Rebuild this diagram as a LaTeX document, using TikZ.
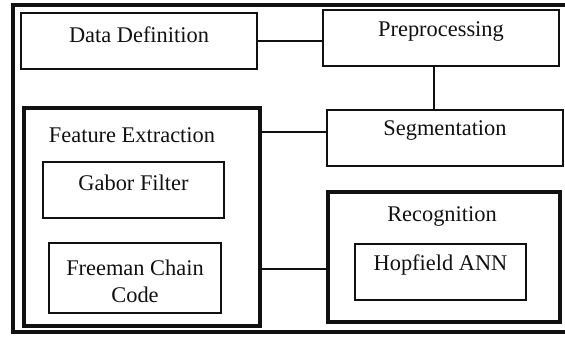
\documentclass[tikz,border=0pt]{standalone}
\usepackage{fontspec}
\setmainfont{Liberation Serif}
\usepackage{xcolor}
\usetikzlibrary{positioning,calc}
\definecolor{ink}{HTML}{111111}
\tikzset{
  frame/.style={draw=ink,line width=2pt},
  box/.style={draw=ink,fill=white,line width=1.3pt,inner sep=0pt,minimum width=#1},
  box/.default=118pt,
  groupbox/.style={draw=ink,fill=white,line width=2pt,inner sep=0pt},
  txt/.style={font=\fontsize{11.2}{13.4}\selectfont,text=ink,inner sep=0pt,align=center},
  link/.style={draw=ink,line width=1.1pt},
}

\begin{document}
\begin{tikzpicture}[x=0.5pt,y=-0.5pt]
    \useasboundingbox (0,0) rectangle (565,336);
    \draw[frame] (13,5) rectangle (570,332);
    % top row
    \node[box,minimum height=28pt] (dd) at (139,41) {};
    \node[txt] (ddt) at (139,35) {Data Definition};
    \node[box,minimum height=28pt] (pre) at (441,38) {};
    \node[txt] (pret) at (441,32) {Preprocessing};
    \node[box,minimum height=28pt] (seg) at (445,138) {};
    \node[txt] (segt) at (445,131) {Segmentation};
    % feature extraction group
    \node[groupbox,minimum width=118pt,minimum height=109pt] (fe) at (142,217) {};
    \node[txt] (fet) at (132,135) {Feature Extraction};
    \node[box=90.5pt,minimum height=28pt] (gab) at (133.5,190) {};
    \node[txt] (gabt) at (133.5,183) {Gabor Filter};
    \node[box=86pt,minimum height=35pt] (fcc) at (135,278) {};
    \node[txt] (fcct) at (135,281) {Freeman Chain\\[0pt]Code};
    % recognition group
    \node[groupbox,minimum width=116pt,minimum height=65pt] (rec) at (444,257) {};
    \node[txt] (rect) at (442,216) {Recognition};
    \node[box=85.5pt,minimum height=28pt] (hop) at (440.5,272) {};
    \node[txt] (hopt) at (440.5,265) {Hopfield ANN};
    % connectors
    \coordinate (j1) at (0,132);
    \coordinate (j2) at (0,269);
    \coordinate (j3) at (434,0);
    \draw[link] (dd.east) -- (pre.west |- dd.east);
    \draw[link] (pre.south -| j3) -- (seg.north -| j3);
    \draw[link] (fe.east |- j1) -- (seg.west |- j1);
    \draw[link] (fe.east |- j2) -- (rec.west |- j2);
\end{tikzpicture}
\end{document}
